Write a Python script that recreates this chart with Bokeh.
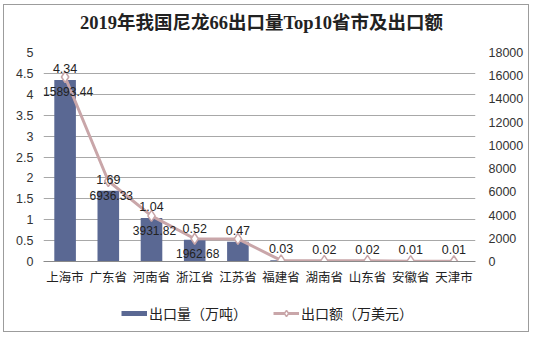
from bokeh.plotting import figure
from bokeh.layouts import column
from bokeh.models import (ColumnDataSource, Range1d, LinearAxis, FactorRange, Legend, LegendItem,
                          LabelSet, Label, SingleIntervalTicker)
from bokeh.core.properties import value
from bokeh.embed import file_html
from bokeh.resources import INLINE

title_text = "2019年我国尼龙66出口量Top10省市及出口额"
categories = ["上海市", "广东省", "河南省", "浙江省", "江苏省", "福建省", "湖南省", "山东省", "安徽省", "天津市"]
volume = [4.34, 1.69, 1.04, 0.52, 0.47, 0.03, 0.02, 0.02, 0.01, 0.01]
amount = [15893.44, 6936.33, 3931.82, 1962.68, 1945.0, 90.0, 60.0, 55.0, 30.0, 25.0]
amount_labels = ["15893.44", "6936.33", "3931.82", "1962.68", "", "", "", "", "", ""]
volume_labels = ["%.2f" % v for v in volume]
series_names = ["出口量（万吨）", "出口额（万美元）"]

BAR = "#5A6893"
LINE = "#C9A6A9"
FONT = "Liberation Sans, Noto Sans CJK SC, sans-serif"
W = 524

# title strip (its frame is aligned with the main chart's frame by the column layout)
t = figure(width=W, height=39, output_backend="svg", toolbar_location=None,
           x_range=Range1d(0, 1), y_range=Range1d(0, 1), x_axis_type=None, y_axis_type=None,
           min_border=0)
t.outline_line_color = None
t.xgrid.grid_line_color = None
t.ygrid.grid_line_color = None
t.add_layout(Label(x=218, y=22, x_units="screen", y_units="screen", text=title_text,
                   text_align="center", text_baseline="middle",
                   text_font="Liberation Serif, Noto Sans CJK SC, serif", text_font_size="18.5px",
                   text_font_style="bold", text_color="#222222"))

src = ColumnDataSource(dict(cat=categories, vol=volume, amt=amount,
                            vlab=volume_labels, alab=amount_labels))

p = figure(x_range=FactorRange(*categories, range_padding=0), y_range=Range1d(0, 5),
           width=W, height=243, output_backend="svg", toolbar_location=None,
           min_border_left=39, min_border_right=53, min_border_top=8, min_border_bottom=23)
p.outline_line_color = None
p.background_fill_color = "white"

bars = p.vbar(x="cat", top="vol", width=0.5, source=src, fill_color=BAR, line_color=None)

p.extra_y_ranges = {"amt": Range1d(0, 18000)}
ln = p.line(x="cat", y="amt", y_range_name="amt", source=src, line_color=LINE, line_width=3)
mk = p.scatter(x="cat", y="amt", y_range_name="amt", source=src, marker="diamond", size=11,
               fill_color="white", line_color=LINE, line_width=1.5)

right = LinearAxis(y_range_name="amt", ticker=SingleIntervalTicker(interval=2000))
p.add_layout(right, "right")

p.yaxis[0].ticker = SingleIntervalTicker(interval=0.5)
for ax in p.yaxis:
    ax.axis_line_color = None
    ax.major_tick_line_color = None
    ax.minor_tick_line_color = None
    ax.major_tick_out = 0
    ax.minor_tick_out = 0
    ax.major_label_text_font = FONT
    ax.major_label_text_font_size = "12.5px"
    ax.major_label_text_color = "#333333"
    ax.major_label_standoff = 10
right.major_label_standoff = 13

p.xaxis.axis_line_color = "#8a8a8a"
p.xaxis.major_tick_line_color = None
p.xaxis.major_tick_out = 0
p.xaxis.major_label_text_font = FONT
p.xaxis.major_label_text_font_size = "12.5px"
p.xaxis.major_label_text_color = "#222222"
p.xaxis.major_label_standoff = 9

p.xgrid.grid_line_color = None
p.ygrid.grid_line_color = "#a8a8a8"
p.ygrid.grid_line_width = 1

vl = LabelSet(x="cat", y="vol", text="vlab", source=src, y_offset=7, text_align="center",
              text_baseline="bottom", text_font=value(FONT), text_font_size="12.5px", text_color="#222222")
al = LabelSet(x="cat", y="amt", y_range_name="amt", text="alab", source=src, y_offset=-10, x_offset=3,
              text_align="center", text_baseline="top", text_font=value(FONT), text_font_size="12px",
              text_color="#222222")
p.add_layout(vl)
p.add_layout(al)

# legend strip
q = figure(width=W, height=44, output_backend="svg", toolbar_location=None,
           x_range=Range1d(0, 1), y_range=Range1d(0, 1), x_axis_type=None, y_axis_type=None,
           min_border=0)
q.outline_line_color = None
q.xgrid.grid_line_color = None
q.ygrid.grid_line_color = None
dummy = ColumnDataSource(dict(x=[-10, -11], y=[-10, -11]))
lb = q.line(x="x", y="y", source=dummy, line_color=BAR, line_width=5)
ll = q.line(x="x", y="y", source=dummy, line_color=LINE, line_width=3)
lm = q.scatter(x="x", y="y", source=dummy, marker="diamond", size=11,
               fill_color="white", line_color=LINE, line_width=1.5)
legend = Legend(items=[LegendItem(label=series_names[0], renderers=[lb]),
                       LegendItem(label=series_names[1], renderers=[ll, lm])],
                orientation="horizontal", location=(78, 8), border_line_color=None,
                background_fill_alpha=0, glyph_width=26, glyph_height=16, spacing=26,
                label_text_font=FONT, label_text_font_size="14px", label_text_color="#222222",
                padding=0, margin=0, label_standoff=2, label_height=16)
q.add_layout(legend, "center")

layout = column(t, p, q, spacing=0)
layout.styles = {"margin": "4px 0 0 3px", "border": "1px solid #9c9c9c"}

open("out.html", "w").write(file_html(layout, INLINE))
